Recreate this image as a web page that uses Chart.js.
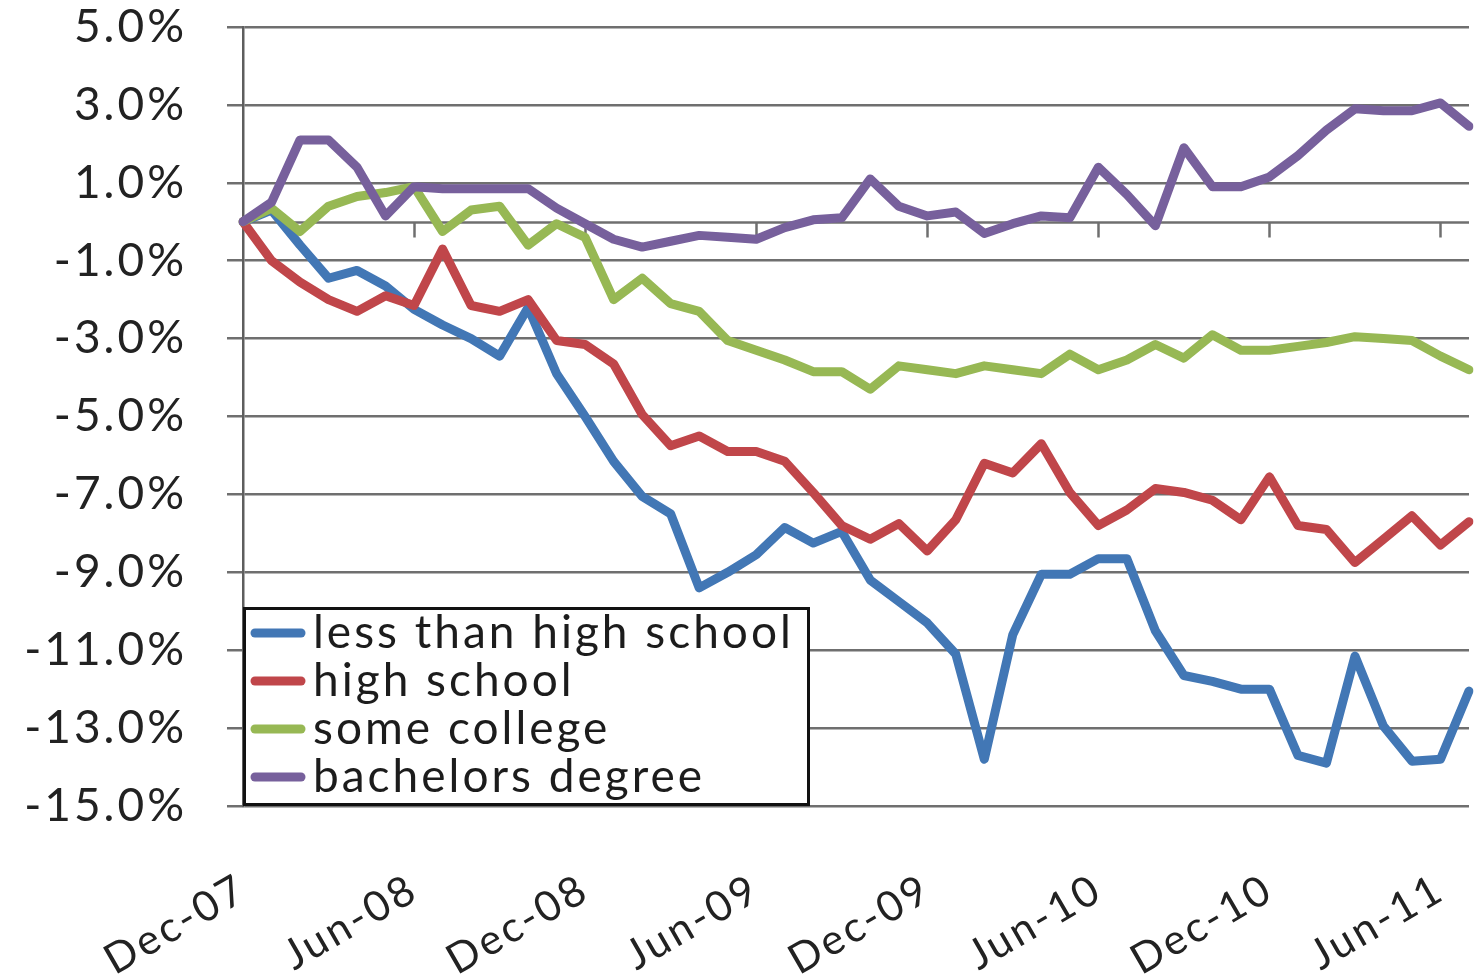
<!DOCTYPE html>
<html>
<head>
<meta charset="utf-8">
<script src="https://cdn.jsdelivr.net/npm/chart.js@4/dist/chart.umd.min.js"></script>
<style>
  html, body { margin: 0; padding: 0; background: #ffffff; }
  #wrap { position: relative; width: 1474px; height: 979px; }
  canvas { display: block; }
</style>
</head>
<body>
<div id="wrap"><canvas id="c" width="1474" height="979"></canvas></div>
<script>
// ---- data (percent change since Dec-07) ----
const categories = [
  'Dec-07','Jan-08','Feb-08','Mar-08','Apr-08','May-08','Jun-08','Jul-08','Aug-08','Sep-08','Oct-08','Nov-08',
  'Dec-08','Jan-09','Feb-09','Mar-09','Apr-09','May-09','Jun-09','Jul-09','Aug-09','Sep-09','Oct-09','Nov-09',
  'Dec-09','Jan-10','Feb-10','Mar-10','Apr-10','May-10','Jun-10','Jul-10','Aug-10','Sep-10','Oct-10','Nov-10',
  'Dec-10','Jan-11','Feb-11','Mar-11','Apr-11','May-11','Jun-11','Jul-11'
];
const lessThanHighSchool = [
  0, 0.3, -0.6, -1.45, -1.25, -1.65, -2.25, -2.65, -3.0, -3.45, -2.2, -3.9,
  -5.0, -6.15, -7.05, -7.5, -9.4, -9.0, -8.55, -7.85, -8.25, -7.95, -9.2, -9.75,
  -10.3, -11.1, -13.8, -10.6, -9.05, -9.05, -8.65, -8.65, -10.5, -11.65, -11.8, -12.0,
  -12.0, -13.7, -13.9, -11.15, -12.95, -13.85, -13.8, -12.05
];
const highSchool = [
  0, -1.0, -1.55, -2.0, -2.3, -1.9, -2.15, -0.7, -2.15, -2.3, -2.0, -3.05,
  -3.15, -3.65, -4.95, -5.75, -5.5, -5.9, -5.9, -6.15, -6.95, -7.8, -8.15, -7.75,
  -8.45, -7.65, -6.2, -6.45, -5.7, -6.95, -7.8, -7.4, -6.85, -6.95, -7.15, -7.65,
  -6.55, -7.8, -7.9, -8.75, -8.15, -7.55, -8.3, -7.7
];
const someCollege = [
  0, 0.35, -0.25, 0.4, 0.65, 0.75, 0.9, -0.25, 0.3, 0.4, -0.6, -0.05,
  -0.4, -2.0, -1.45, -2.1, -2.3, -3.05, -3.3, -3.55, -3.85, -3.85, -4.3, -3.7,
  -3.8, -3.9, -3.7, -3.8, -3.9, -3.4, -3.8, -3.55, -3.15, -3.5, -2.9, -3.3,
  -3.3, -3.2, -3.1, -2.95, -3.0, -3.05, -3.45, -3.8
];
const bachelorsDegree = [
  0, 0.5, 2.1, 2.1, 1.4, 0.15, 0.9, 0.85, 0.85, 0.85, 0.85, 0.35,
  -0.05, -0.45, -0.65, -0.5, -0.35, -0.4, -0.45, -0.15, 0.05, 0.1, 1.1, 0.4,
  0.15, 0.25, -0.3, -0.05, 0.15, 0.1, 1.4, 0.7, -0.1, 1.9, 0.9, 0.9,
  1.15, 1.7, 2.35, 2.9, 2.85, 2.85, 3.05, 2.45
];
const seriesNames = ['less than high school', 'high school', 'some college', 'bachelors degree'];
const seriesColors = ['#4277b5', '#c0464a', '#97b854', '#77609c'];
const yTickValues = [-15, -13, -11, -9, -7, -5, -3, -1, 1, 3, 5];
const xLabelEvery = 6;

const FONT = 'Lato, "Open Sans", "DejaVu Sans", sans-serif';
const FONT_SIZE = 46;
const X_FONT_SIZE = 42;
const GRID = '#6f6f6f';
const SPACING = '3px';

// letter spacing for all canvas text (Calibri-like wide rendering)
const spacingPlugin = {
  id: 'spacing',
  beforeInit(chart) { try { chart.ctx.letterSpacing = SPACING; } catch (e) {} },
  beforeUpdate(chart) { try { chart.ctx.letterSpacing = SPACING; } catch (e) {} },
  beforeDraw(chart) { try { chart.ctx.letterSpacing = SPACING; } catch (e) {} }
};

// zero axis line with tick marks (Excel category axis crossing at 0)
const zeroAxis = {
  id: 'zeroAxis',
  beforeDatasetsDraw(chart) {
    const { ctx, chartArea } = chart;
    const xs = chart.scales.x, ys = chart.scales.y;
    const y0 = Math.round(ys.getPixelForValue(0)) + 0.5;
    ctx.save();
    ctx.strokeStyle = GRID;
    ctx.lineWidth = 2.5;
    ctx.beginPath();
    ctx.moveTo(chartArea.left, y0);
    ctx.lineTo(chartArea.right, y0);
    ctx.stroke();
    for (let i = xLabelEvery; i < categories.length; i += xLabelEvery) {
      const x = Math.round(xs.getPixelForValue(i)) + 0.5;
      ctx.beginPath();
      ctx.moveTo(x, y0);
      ctx.lineTo(x, y0 + 15);
      ctx.stroke();
    }
    ctx.restore();
  }
};

// boxed legend at lower-left of plot area
const boxLegend = {
  id: 'boxLegend',
  afterDatasetsDraw(chart) {
    const { ctx, chartArea } = chart;
    const ys = chart.scales.y;
    const bottom = ys.getPixelForValue(-15);
    const left = chartArea.left;
    const w = 567, h = 199;
    const top = bottom - h;
    ctx.save();
    ctx.fillStyle = '#ffffff';
    ctx.fillRect(left, top, w, h);
    ctx.strokeStyle = '#111111';
    ctx.lineWidth = 3;
    ctx.strokeRect(left + 1.5, top + 1.5, w - 3, h - 3);
    ctx.font = FONT_SIZE + 'px ' + FONT;
    ctx.textBaseline = 'middle';
    ctx.textAlign = 'left';
    for (let i = 0; i < seriesNames.length; i++) {
      const cy = top + 26 + i * 48;
      ctx.strokeStyle = seriesColors[i];
      ctx.lineWidth = 9;
      ctx.lineCap = 'round';
      ctx.beginPath();
      ctx.moveTo(left + 12, cy);
      ctx.lineTo(left + 58, cy);
      ctx.stroke();
      ctx.fillStyle = '#1c1c1c';
      ctx.fillText(seriesNames[i], left + 70, cy);
    }
    ctx.restore();
  }
};

const seriesData = [lessThanHighSchool, highSchool, someCollege, bachelorsDegree];
const datasets = seriesData.map((d, i) => ({
  label: seriesNames[i],
  data: d,
  borderColor: seriesColors[i],
  backgroundColor: seriesColors[i],
  borderWidth: 9,
  pointRadius: 0,
  tension: 0,
  borderJoinStyle: 'round',
  borderCapStyle: 'round',
  fill: false,
  order: 3 - i
}));

new Chart(document.getElementById('c'), {
  type: 'line',
  data: { labels: categories, datasets },
  options: {
    responsive: false,
    devicePixelRatio: 1,
    animation: false,
    layout: { padding: { left: 0, right: 5, top: 27, bottom: 0 } },
    plugins: { legend: { display: false }, tooltip: { enabled: false } },
    scales: {
      x: {
        type: 'category',
        offset: false,
        grid: { display: false, drawTicks: false },
        border: { display: false },
        ticks: {
          autoSkip: false,
          maxRotation: 30,
          minRotation: 30,
          padding: 58,
          color: '#222222',
          font: { family: FONT, size: X_FONT_SIZE },
          callback: (v, i) => (i % xLabelEvery === 0 ? categories[i] : '')
        },
        afterFit: (s) => {
          s.height = 173;
          s.paddingLeft = 0; s.paddingRight = 0; s.paddingTop = 0; s.paddingBottom = 0;
        }
      },
      y: {
        min: -15,
        max: 5,
        afterBuildTicks: (s) => { s.ticks = yTickValues.map(v => ({ value: v })); },
        grid: { color: GRID, lineWidth: 2.5, tickLength: 16, drawTicks: true },
        border: { display: true, color: '#5e5e5e', width: 2.5 },
        ticks: {
          padding: 40,
          color: '#222222',
          font: { family: FONT, size: FONT_SIZE },
          callback: (v) => Number(v).toFixed(1) + '%'
        },
        afterFit: (s) => {
          s.width = 243;
          s.paddingLeft = 0; s.paddingRight = 0; s.paddingTop = 0; s.paddingBottom = 0;
        }
      }
    }
  },
  plugins: [spacingPlugin, zeroAxis, boxLegend]
});
</script>
</body>
</html>
